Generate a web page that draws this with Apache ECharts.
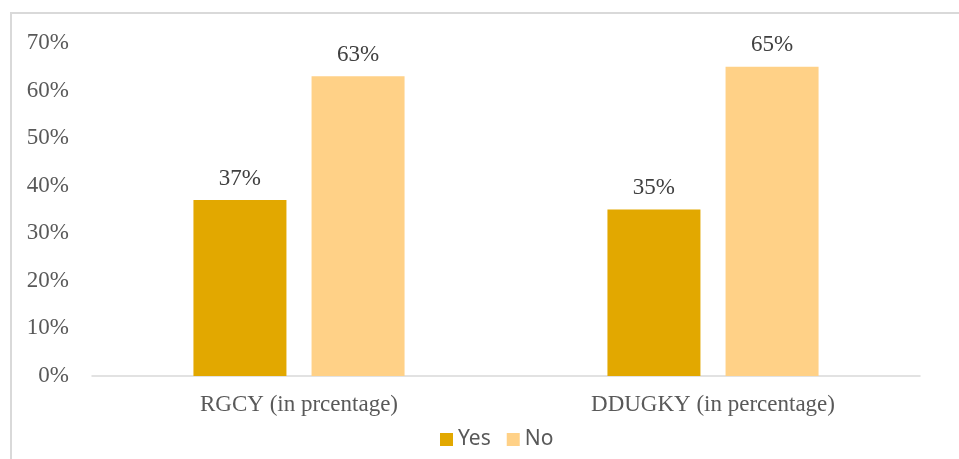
<!DOCTYPE html>
<html>
<head>
<meta charset="utf-8">
<script src="https://cdn.jsdelivr.net/npm/echarts@6/dist/echarts.min.js"></script>
<style>
  html, body { margin: 0; padding: 0; background: #fff; }
  #frame { position: absolute; left: 10px; top: 12px; width: 960px; height: 460px;
           border-left: 2px solid #d9d9d9; border-top: 2px solid #d9d9d9; }
  #chart { position: absolute; left: 0; top: 0; width: 959px; height: 459px; }
</style>
</head>
<body>
<div id="frame"></div>
<div id="chart"></div>
<script>
// Programme categories and the share of respondents answering Yes / No
const categories = ['RGCY (in prcentage)', 'DDUGKY (in percentage)'];
const yesValues = [37, 35];
const noValues = [63, 65];
const seriesNames = ['Yes', 'No'];

const chart = echarts.init(document.getElementById('chart'));
const serif = 'Liberation Serif, Times New Roman, serif';

const valueLabel = {
  show: true,
  position: 'top',
  distance: 10,
  formatter: p => p.value + '%',
  fontFamily: serif,
  fontSize: 23,
  color: '#404040'
};

chart.setOption({
  animation: false,
  grid: { left: 92, right: 39, top: 43, bottom: 83 },
  legend: {
    data: seriesNames,
    top: 424,
    left: 435,
    itemWidth: 13,
    itemHeight: 13,
    itemGap: 16,
    icon: 'rect',
    textStyle: { fontFamily: 'Noto Sans, sans-serif', fontSize: 21, color: '#595959' }
  },
  xAxis: {
    type: 'category',
    data: categories,
    axisLine: { lineStyle: { color: '#d9d9d9', width: 1.5 } },
    axisTick: { show: false },
    axisLabel: { fontFamily: serif, fontSize: 23, color: '#595959', margin: 17 }
  },
  yAxis: {
    type: 'value',
    min: 0,
    max: 70,
    interval: 10,
    splitLine: { show: false },
    axisLine: { show: false },
    axisTick: { show: false },
    axisLabel: { fontFamily: serif, fontSize: 23, color: '#595959', margin: 23, formatter: '{value}%' }
  },
  series: [
    {
      name: seriesNames[0],
      type: 'bar',
      data: yesValues,
      barWidth: 93,
      barGap: '27%',
      itemStyle: { color: '#e2a800' },
      label: valueLabel
    },
    {
      name: seriesNames[1],
      type: 'bar',
      data: noValues,
      barWidth: 93,
      itemStyle: { color: '#ffd187' },
      label: valueLabel
    }
  ]
});
</script>
</body>
</html>
